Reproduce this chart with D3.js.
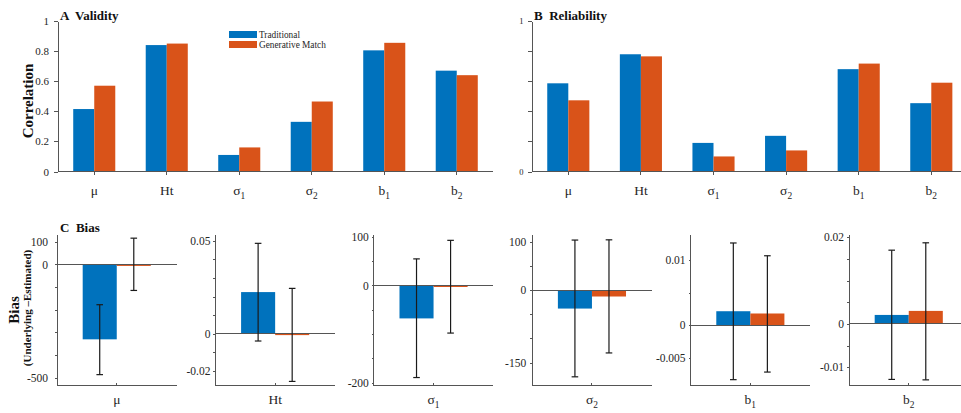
<!DOCTYPE html>
<html>
<head>
<meta charset="utf-8">
<script src="https://cdn.jsdelivr.net/npm/d3@7"></script>
<style>
  html, body { margin: 0; padding: 0; background: #fff; }
  svg { display: block; font-family: "Liberation Serif", "Times New Roman", serif; }
  .axis path, .axis line { stroke: #555; stroke-width: 1; shape-rendering: crispEdges; }
  .axis text { fill: #262626; font-family: "Liberation Serif", serif; }
</style>
</head>
<body>
<svg id="chart" width="961" height="413"></svg>
<script>
// Parameters (base symbol + subscript)
const categoriesBase = ["μ", "Ht", "σ", "σ", "b", "b"];
const categoriesSub = ["", "", "1", "2", "1", "2"];
const seriesNames = ["Traditional", "Generative Match"];
const seriesColors = ["#0072BD", "#D95319"];

// A: validity (correlation)
const validityTraditional = [0.415, 0.84, 0.11, 0.33, 0.805, 0.67];
const validityGenerative = [0.57, 0.85, 0.16, 0.465, 0.855, 0.64];
const validityTicks = [0, 0.2, 0.4, 0.6, 0.8, 1];

// B: reliability (correlation)
const reliabilityTraditional = [0.586, 0.779, 0.19, 0.237, 0.68, 0.454];
const reliabilityGenerative = [0.473, 0.765, 0.10, 0.14, 0.717, 0.59];
const reliabilityTicks = [0, 0.2, 0.4, 0.6, 0.8, 1];
const reliabilityTickLabels = [0, 1];

// C: bias (underlying - estimated) with error bars
const biasTraditional = [-331, 0.0224, -67.8, -38, 0.00215, 0.00207];
const biasGenerative = [-2, -0.0008, -3, -13, 0.0018, 0.003];
const biasTraditionalLow = [-487, -0.004, -189.6, -179.5, -0.0084, -0.0128];
const biasTraditionalHigh = [-178, 0.0487, 54.8, 104, 0.01267, 0.017];
const biasGenerativeLow = [-115, -0.0258, -98, -130, -0.00723, -0.0129];
const biasGenerativeHigh = [116, 0.0244, 93, 104.5, 0.0107, 0.0187];
const biasDomains = [[-535, 130], [-0.028, 0.0532], [-206, 104], [-197.5, 114.5], [-0.0093, 0.0139], [-0.0142, 0.0205]];
const biasTickSteps = [100, 0.01, 50, 50, 0.005, 0.005];
const biasTickLabels = [[100, 0, -500], [0.05, 0, -0.02], [100, 0, -200], [100, 0, -150], [0.01, 0, -0.005], [0.02, 0, -0.01]];

const svg = d3.select("#chart");
const TEXT = "#262626";
const AXIS = "#555";

function categoryLabel(g, i, x, y, size) {
  const t = g.append("text")
    .attr("x", x).attr("y", y)
    .attr("text-anchor", "middle")
    .attr("font-size", size)
    .attr("fill", TEXT);
  t.append("tspan").text(categoriesBase[i]);
  if (categoriesSub[i]) {
    t.append("tspan").attr("dy", 4).attr("font-size", size * 0.7).text(categoriesSub[i]);
  }
}

// ---------- Panels A and B: grouped bar charts ----------
function correlationPanel(opts) {
  const g = svg.append("g");
  const x = d3.scaleBand().domain(d3.range(categoriesBase.length)).range([opts.left, opts.right]);
  const y = d3.scaleLinear().domain([0, 1]).range([171.5, 21]);
  const bw = x.step() * 0.29;

  [opts.trad, opts.gen].forEach((vals, s) => {
    g.append("g").selectAll("rect").data(vals).join("rect")
      .attr("x", (d, i) => x(i) + x.bandwidth() / 2 + (s === 0 ? -bw : 0))
      .attr("y", d => y(d))
      .attr("width", bw)
      .attr("height", d => y(0) - y(d))
      .attr("fill", seriesColors[s]);
  });

  const yAxis = d3.axisLeft(y).tickValues(opts.ticks)
    .tickSize(4).tickSizeOuter(0).tickPadding(opts.tickPadding)
    .tickFormat(opts.tickFormat);
  g.append("g").attr("class", "axis").attr("transform", `translate(${opts.left},0)`)
    .call(yAxis)
    .call(a => a.selectAll("text").attr("font-size", opts.tickFont));

  // baseline with category ticks
  g.append("line").attr("x1", opts.left).attr("x2", opts.right)
    .attr("y1", y(0)).attr("y2", y(0)).attr("stroke", AXIS).attr("shape-rendering", "crispEdges");
  categoriesBase.forEach((c, i) => {
    const cx = x(i) + x.bandwidth() / 2;
    g.append("line").attr("x1", cx).attr("x2", cx).attr("y1", y(0)).attr("y2", y(0) + 3)
      .attr("stroke", AXIS).attr("shape-rendering", "crispEdges");
    categoryLabel(g, i, cx, 194.5, 13.5);
  });

  g.append("text").attr("x", opts.left + 2).attr("y", 19.5)
    .attr("font-size", 13).attr("font-weight", "bold").attr("fill", "#111")
    .attr("xml:space", "preserve")
    .text(opts.title);
  return g;
}

correlationPanel({
  left: 58, right: 493, trad: validityTraditional, gen: validityGenerative,
  ticks: validityTicks, tickFormat: d => String(d), tickFont: 11, tickPadding: 5,
  title: "A  Validity"
});
correlationPanel({
  left: 532, right: 967.6, trad: reliabilityTraditional, gen: reliabilityGenerative,
  ticks: reliabilityTicks,
  tickFormat: d => reliabilityTickLabels.includes(d) ? String(d) : "",
  tickFont: 8.5, tickPadding: 4.5,
  title: "B  Reliability"
});

// y label for the correlation row
svg.append("text").attr("transform", "translate(33,101) rotate(-90)")
  .attr("text-anchor", "middle").attr("font-size", 15).attr("font-weight", "bold")
  .attr("fill", "#111").text("Correlation");

// legend
const legend = svg.append("g");
seriesNames.forEach((name, s) => {
  legend.append("rect").attr("x", 229).attr("y", 31 + s * 10).attr("width", 28).attr("height", 7)
    .attr("fill", seriesColors[s]);
  legend.append("text").attr("x", 259).attr("y", 37.5 + s * 10)
    .attr("font-size", 9.3).attr("fill", TEXT).text(name);
});

// ---------- Panel C: bias subplots ----------
const biasTop = 235, biasBottom = 385.5, biasWidth = 119.5;
const labelPad = [7, 3, 3, 4, 3, 3];

categoriesBase.forEach((c, i) => {
  const left = 57 + i * 158.4;
  const right = left + biasWidth;
  const g = svg.append("g");
  const y = d3.scaleLinear().domain(biasDomains[i]).range([biasBottom, biasTop]);
  const x = d3.scaleBand().domain([0]).range([left, right]);
  const cx = x(0) + x.bandwidth() / 2;
  const bw = biasWidth * 0.285;

  const step = biasTickSteps[i];
  const [lo, hi] = biasDomains[i];
  const tickVals = d3.range(Math.ceil(lo / step), Math.floor(hi / step) + 1)
    .map(k => +(k * step).toFixed(10));
  const labelled = biasTickLabels[i];
  const yAxis = d3.axisLeft(y).tickValues(tickVals).tickSize(2).tickSizeOuter(0)
    .tickPadding(labelPad[i])
    .tickFormat(v => labelled.some(l => Math.abs(l - v) < step * 1e-6) ? String(v) : "");
  g.append("g").attr("class", "axis").attr("transform", `translate(${left},0)`)
    .call(yAxis)
    .call(a => a.select(".domain").attr("d", `M0,${biasTop}V${biasBottom}`))
    .call(a => a.selectAll("text").attr("font-size", 11.5));

  // bottom axis
  g.append("line").attr("x1", left).attr("x2", right).attr("y1", biasBottom).attr("y2", biasBottom)
    .attr("stroke", AXIS).attr("shape-rendering", "crispEdges");
  g.append("line").attr("x1", cx).attr("x2", cx).attr("y1", biasBottom).attr("y2", biasBottom - 3)
    .attr("stroke", AXIS).attr("shape-rendering", "crispEdges");

  const series = [
    { v: biasTraditional[i], lo: biasTraditionalLow[i], hi: biasTraditionalHigh[i] },
    { v: biasGenerative[i], lo: biasGenerativeLow[i], hi: biasGenerativeHigh[i] }
  ];
  series.forEach((d, s) => {
    const bx = s === 0 ? cx - bw : cx;
    g.append("rect").attr("x", bx).attr("width", bw)
      .attr("y", Math.min(y(d.v), y(0)))
      .attr("height", Math.max(Math.abs(y(d.v) - y(0)), 1.5))
      .attr("fill", seriesColors[s]);
  });

  // zero line
  g.append("line").attr("x1", left).attr("x2", right).attr("y1", y(0)).attr("y2", y(0))
    .attr("stroke", AXIS).attr("shape-rendering", "crispEdges");

  // error bars
  series.forEach((d, s) => {
    const ex = (s === 0 ? cx - bw : cx) + bw / 2;
    const eb = g.append("g").attr("stroke", "#1a1a1a").attr("stroke-width", 1.2);
    eb.append("line").attr("x1", ex).attr("x2", ex).attr("y1", y(d.lo)).attr("y2", y(d.hi));
    [d.lo, d.hi].forEach(v => {
      eb.append("line").attr("x1", ex - 3.3).attr("x2", ex + 3.3).attr("y1", y(v)).attr("y2", y(v));
    });
  });

  categoryLabel(g, i, cx, 404, 13.5);
});

svg.append("text").attr("x", 60).attr("y", 232)
  .attr("font-size", 13).attr("font-weight", "bold").attr("fill", "#111")
  .attr("xml:space", "preserve").text("C  Bias");

svg.append("text").attr("transform", "translate(19,310) rotate(-90)")
  .attr("text-anchor", "middle").attr("font-size", 15).attr("font-weight", "bold")
  .attr("fill", "#111").text("Bias");
svg.append("text").attr("transform", "translate(31,308) rotate(-90)")
  .attr("text-anchor", "middle").attr("font-size", 11).attr("font-weight", "bold")
  .attr("fill", "#111").text("(Underlying –Estimated)");
</script>
</body>
</html>
